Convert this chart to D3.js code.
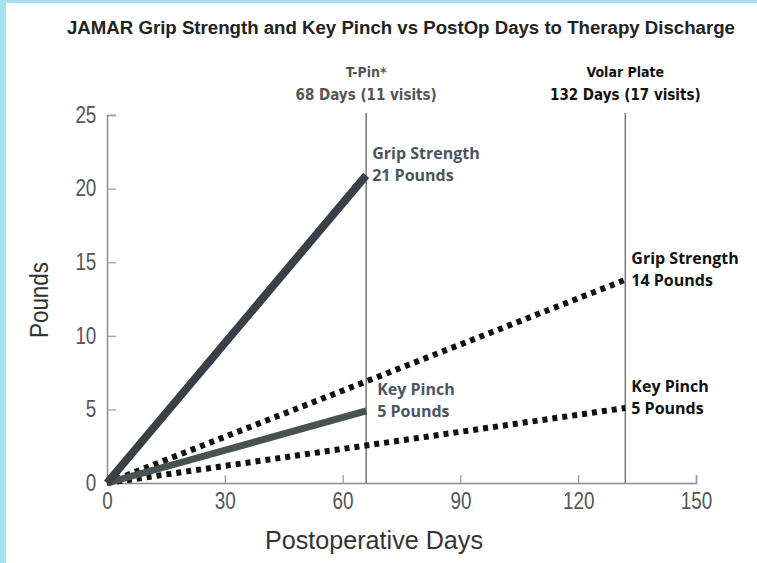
<!DOCTYPE html>
<html><head><meta charset="utf-8">
<script src="https://cdn.jsdelivr.net/npm/d3@7/dist/d3.min.js"></script>
<style>body{margin:0;background:#fff}svg{display:block}</style>
</head><body>
<script>
const title = "JAMAR Grip Strength and Key Pinch vs PostOp Days to Therapy Discharge";
const xTicks = [0, 30, 60, 90, 120, 150];
const yTicks = [0, 5, 10, 15, 20, 25];
const tpinGrip = [[0, 0], [66, 20.9]];
const tpinPinch = [[0, 0], [66, 4.9]];
const volarGrip = [[0, 0], [132, 13.8]];
const volarPinch = [[0, 0], [132, 5.1]];
const markers = [
  {day: 66, l1: "T-Pin*", l2: "68 Days (11  visits)", color: "#555"},
  {day: 132, l1: "Volar Plate", l2: "132 Days (17 visits)", color: "#111"}
];
const endLabels = [
  {day: 66, val: 20.9, l1: "Grip Strength", l2: "21 Pounds", color: "#4a5560"},
  {day: 66, val: 4.9, l1: "Key Pinch", l2: "5 Pounds", color: "#4a5560", dx: 5},
  {day: 132, val: 13.8, l1: "Grip Strength", l2: "14 Pounds", color: "#111"},
  {day: 132, val: 5.1, l1: "Key Pinch", l2: "5 Pounds", color: "#111"}
];

const W = 757, H = 563;
const svg = d3.select("body").append("svg").attr("width", W).attr("height", H);
svg.append("rect").attr("width", W).attr("height", H).attr("fill", "#fff");
svg.append("rect").attr("x", 0).attr("y", 0).attr("width", 6).attr("height", H).attr("fill", "#a4e2ef");
svg.append("rect").attr("x", 0).attr("y", 0).attr("width", W).attr("height", 3).attr("fill", "#a4e2ef");

const x = d3.scaleLinear().domain([0, 150]).range([107, 696]);
const y = d3.scaleLinear().domain([0, 25]).range([483, 115]);
const helv = "'Liberation Sans',Arial,sans-serif";
const cond = "'DejaVu Sans Condensed','Liberation Sans',sans-serif";
const hum = "'Open Sans','Noto Sans',sans-serif";

svg.append("text").attr("x", 67).attr("y", 34).text(title)
  .attr("font-family", helv).attr("font-weight", "bold").attr("font-size", 18)
  .attr("fill", "#222").attr("textLength", 668).attr("lengthAdjust", "spacingAndGlyphs");

// axes
const gx = svg.append("g").attr("transform", `translate(0,${y(0)})`)
  .call(d3.axisBottom(x).tickValues(xTicks).tickSize(-8).tickPadding(12));
const gy = svg.append("g").attr("transform", `translate(${x(0)},0)`)
  .call(d3.axisLeft(y).tickValues(yTicks).tickSize(-9).tickPadding(11));
[gx, gy].forEach(g => {
  g.select(".domain").attr("stroke", "#8a8a8a").attr("stroke-width", 1.5);
  g.selectAll(".tick line").attr("stroke", "#999").attr("stroke-width", 1.2);
  g.selectAll(".tick text").attr("font-family", helv).attr("font-size", 23).attr("fill", "#555")
    .attr("transform", "scale(0.82,1)");
});
gx.selectAll(".tick text").attr("dy", "0.6em");
gy.selectAll(".tick text").attr("x", -13);
gx.selectAll(".tick").filter(d => d === 0).select("line").remove();
gy.selectAll(".tick").filter(d => d === 0).select("line").remove();

// vertical markers
markers.forEach(m => {
  svg.append("line").attr("x1", x(m.day)).attr("x2", x(m.day))
    .attr("y1", 113).attr("y2", y(0)).attr("stroke", "#777").attr("stroke-width", 1.5);
  svg.append("text").attr("x", x(m.day)).attr("y", 77).attr("text-anchor", "middle")
    .attr("font-family", cond).attr("font-weight", "bold").attr("font-size", 14).attr("fill", m.color).text(m.l1);
  svg.append("text").attr("x", x(m.day)).attr("y", 100).attr("text-anchor", "middle")
    .attr("font-family", cond).attr("font-weight", "bold").attr("font-size", 15).attr("fill", m.color).text(m.l2);
});

const line = d3.line().x(d => x(d[0])).y(d => y(d[1]));
svg.append("path").attr("d", line(volarPinch)).attr("fill", "none").attr("stroke", "#111")
  .attr("stroke-width", 6).attr("stroke-dasharray", "5,5");
svg.append("path").attr("d", line(volarGrip)).attr("fill", "none").attr("stroke", "#111")
  .attr("stroke-width", 6).attr("stroke-dasharray", "5,5");
svg.append("path").attr("d", line(tpinPinch)).attr("fill", "none").attr("stroke", "#4a5152")
  .attr("stroke-width", 7);
svg.append("path").attr("d", line(tpinGrip)).attr("fill", "none").attr("stroke", "#3a4048")
  .attr("stroke-width", 8);

endLabels.forEach(l => {
  const tx = x(l.day) + 6 + (l.dx || 0);
  const ty = y(l.val);
  svg.append("text").attr("x", tx).attr("y", ty - 16).attr("font-family", hum).attr("font-weight", "bold")
    .attr("font-size", 16).attr("fill", l.color).text(l.l1);
  svg.append("text").attr("x", tx).attr("y", ty + 6).attr("font-family", hum).attr("font-weight", "bold")
    .attr("font-size", 16).attr("fill", l.color).text(l.l2);
});

svg.append("text").attr("transform", "translate(48,300) rotate(-90)").attr("text-anchor", "middle")
  .attr("font-family", helv).attr("font-size", 26).attr("fill", "#333")
  .attr("textLength", 76).attr("lengthAdjust", "spacingAndGlyphs").text("Pounds");
svg.append("text").attr("x", 374).attr("y", 549).attr("text-anchor", "middle")
  .attr("font-family", helv).attr("font-size", 26).attr("fill", "#333")
  .attr("textLength", 218).attr("lengthAdjust", "spacingAndGlyphs").text("Postoperative Days");
</script>
</body></html>
